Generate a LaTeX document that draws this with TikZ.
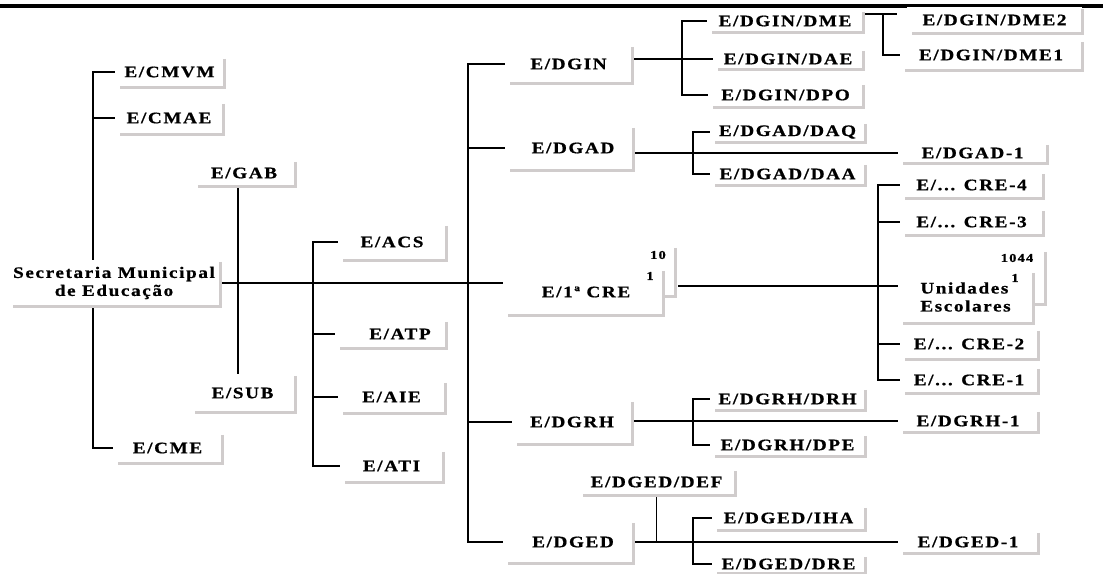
\documentclass[tikz,border=0pt]{standalone}
\usepackage{fontspec}
\usetikzlibrary{backgrounds}
\newfontfamily\orgfam[FakeStretch=1.2,LetterSpace=10,FakeBold=0.8]{Liberation Serif}
\newcommand\orgfont{\orgfam\bfseries\fontsize{16}{18}\selectfont}
\newcommand\numfont{\orgfam\bfseries\fontsize{12}{13}\selectfont}
\definecolor{shadowgray}{RGB}{208,204,204}
\tikzset{
  org/.style={fill=white, inner sep=0pt, font=\orgfont, align=center},
  shade/.style={line width=2.6pt, draw=shadowgray},
  con/.style={line width=1.3pt, draw=black},
  num/.style={font=\numfont, inner sep=0pt}
}
\newcommand\ob[6]{\node[org, minimum width=#4pt, minimum height=#5pt] (#1) at (#2,#3) {#6};}
\begin{document}
\begin{tikzpicture}[x=1pt,y=-1pt]
\useasboundingbox (0,0) rectangle (1103,573);
\fill[black] (0,3.5) rectangle (1103,8);
% nodes
\ob{cmvm}{169.5}{72}{109}{30}{E/CMVM}
\ob{cmae}{169}{118}{108}{32}{E/CMAE}
\ob{gab}{244}{173}{102}{26}{E/GAB}
\ob{sme}{114}{283}{212}{46}{Secretaria Municipal\\de Educação}
\ob{sub}{242.5}{393}{105}{38}{E/SUB}
\ob{cme}{167.5}{448}{109}{30}{E/CME}
\ob{acs}{392}{242}{108}{36}{E/ACS}
\ob{atp}{390.5}{334}{111}{28}{\hspace*{19pt}E/ATP}
\ob{aie}{391.5}{397}{107}{32}{E/AIE}
\ob{ati}{391.5}{466}{103}{32}{E/ATI}
\ob{dgin}{568.5}{64}{127}{38}{E/DGIN}
\ob{dgad}{569}{148}{128}{44}{\hspace*{8pt}E/DGAD}
\ob{cre}{583}{292}{160}{46}{\hspace*{6pt}E/1ª CRE}
\ob{dgrh}{572}{422}{120}{44}{E/DGRH}
\ob{dged}{568}{542}{130}{42}{\hspace*{10pt}E/DGED}
\ob{def}{656.5}{482}{157}{26}{E/DGED/DEF}
\ob{dme}{785}{21}{156}{22}{E/DGIN/DME}
\ob{dae}{788}{59}{150}{20}{E/DGIN/DAE}
\ob{dpo}{785.5}{95}{155}{24}{E/DGIN/DPO}
\ob{dmeb}{994.5}{20}{175}{26}{E/DGIN/DME2}
\ob{dmea}{991}{55}{182}{30}{E/DGIN/DME1}
\ob{daq}{787.5}{132}{155}{20}{E/DGAD/DAQ}
\ob{daa}{787.5}{174}{155}{22}{E/DGAD/DAA}
\ob{dgada}{972.5}{153}{149}{20}{E/DGAD-1}
\ob{cred}{971.5}{185}{143}{26}{E/... CRE-4}
\ob{crec}{971.5}{222}{143}{26}{E/... CRE-3}
\node[org, minimum width=135pt, minimum height=52pt, align=left] (und) at (965.5,297) {Unidades\\Escolares};
\ob{creb}{969}{344}{138}{30}{E/... CRE-2}
\ob{crea}{969}{380}{138}{26}{E/... CRE-1}
\ob{drh}{787.5}{399}{155}{22}{E/DGRH/DRH}
\ob{dpe}{787.5}{445}{155}{22}{E/DGRH/DPE}
\ob{dgrha}{968}{421}{140}{22}{E/DGRH-1}
\ob{iha}{788.5}{518}{153}{24}{E/DGED/IHA}
\ob{dre}{788.5}{564}{153}{18}{E/DGED/DRE}
\ob{dgeda}{968}{542}{140}{22}{E/DGED-1}
% small numbers
\node[num] (crenA) at (658,255) {10};
\node[num] (crenB) at (650,276) {1};
\node[num] (undnA) at (1017,258) {1044};
\node[num] (undnB) at (1015,278) {1};
% trunk coordinates
\coordinate (ta) at (93,0);
\coordinate (tg) at (238,0);
\coordinate (tb) at (313,0);
\coordinate (tc) at (468,0);
\coordinate (td) at (682,0);
\coordinate (te) at (883,14);
\coordinate (tf) at (693,0);
\coordinate (tcre) at (878,286);
% connectors
\begin{scope}[on background layer]
\draw[con] (cmvm.west) -- (cmvm.west -| ta) -- (cme.west -| ta) -- (cme.west);
\draw[con] (cmae.west) -- (cmae.west -| ta);
\draw[con] (gab.south -| tg) -- (sub.north -| tg);
\draw[con] (sme.east) -- (sme.east -| cre.west);
\draw[con] (acs.west) -- (acs.west -| tb) -- (ati.west -| tb) -- (ati.west);
\draw[con] (atp.west) -- (atp.west -| tb);
\draw[con] (aie.west) -- (aie.west -| tb);
\draw[con] (dgin.west) -- (dgin.west -| tc) -- (dged.west -| tc) -- (dged.west);
\draw[con] (dgad.west) -- (dgad.west -| tc);
\draw[con] (dgrh.west) -- (dgrh.west -| tc);
% DGIN
\draw[con] (dae.west -| dgin.east) -- (dae.west);
\draw[con] (dme.west) -- (dme.west -| td) -- (dpo.west -| td) -- (dpo.west);
\draw[con] (te -| dme.east) -- ([xshift=-10pt]te -| dmeb.west);
\draw[con] (te) |- (dmea.west);
% DGAD
\draw[con] (dgada.west -| dgad.east) -- (dgada.west);
\draw[con] (daq.west) -- (daq.west -| tf) -- (daa.west -| tf) -- (daa.west);
% CRE
\draw[con] ([xshift=15pt]cre.east |- tcre) -- (tcre -| und.west);
\draw[con] (cred.west) -- (cred.west -| tcre) -- (crea.west -| tcre) -- (crea.west);
\draw[con] (crec.west) -- (crec.west -| tcre);
\draw[con] (creb.west) -- (creb.west -| tcre);
% DGRH
\draw[con] (dgrha.west -| dgrh.east) -- (dgrha.west);
\draw[con] (drh.west) -- (drh.west -| tf) -- (dpe.west -| tf) -- (dpe.west);
% DGED
\draw[con] (dgeda.west -| dged.east) -- (dgeda.west);
\draw[con] (def.south) -- (def.south |- dgeda.west);
\draw[con] (iha.west) -- (iha.west -| tf) -- (dre.west -| tf) -- (dre.west);
\end{scope}
% shadows
\foreach \n in {cmvm,cmae,gab,sme,sub,cme,acs,atp,aie,ati,dgin,dgad,cre,dgrh,dged,def,dme,dae,dpo,dmeb,dmea,daq,daa,dgada,cred,crec,und,creb,crea,drh,dpe,dgrha,iha,dre,dgeda}
  \draw[shade] ([yshift=-2pt]\n.north east) -- (\n.south east) -- ([xshift=5pt]\n.south west);
\draw[shade] ([xshift=12pt,yshift=21pt]cre.north east) -- ([xshift=12pt,yshift=19pt]cre.south east) -- ([yshift=19pt]cre.south east);
\draw[shade] ([xshift=12pt,yshift=19pt]und.north east) -- ([xshift=12pt,yshift=19pt]und.south east) -- ([yshift=19pt]und.south east);
\end{tikzpicture}
\end{document}
